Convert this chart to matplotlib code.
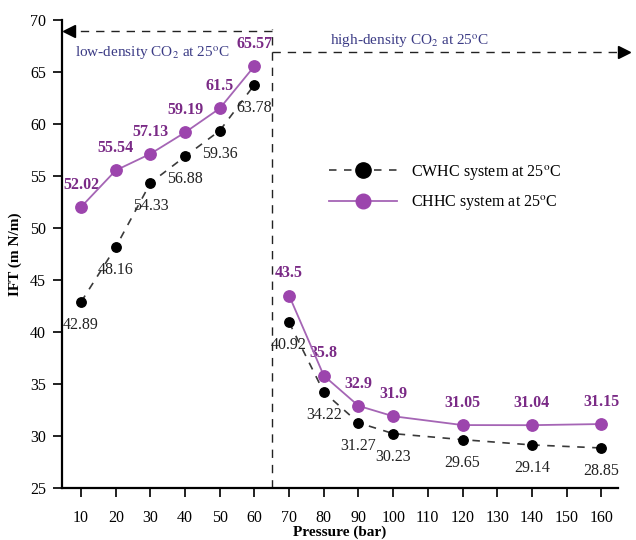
import matplotlib
matplotlib.use("Agg")
import matplotlib.pyplot as plt
from matplotlib.lines import Line2D

plt.rcParams['font.family'] = ['Liberation Serif', 'DejaVu Serif']
plt.rcParams['mathtext.fontset'] = 'stix'

# data
pressure_low = [10, 20, 30, 40, 50, 60]
pressure_high = [70, 80, 90, 100, 120, 140, 160]
cwhc_low = [42.89, 48.16, 54.33, 56.88, 59.36, 63.78]
cwhc_high = [40.92, 34.22, 31.27, 30.23, 29.65, 29.14, 28.85]
chhc_low = [52.02, 55.54, 57.13, 59.19, 61.5, 65.57]
chhc_high = [43.5, 35.8, 32.9, 31.9, 31.05, 31.04, 31.15]
x_ticks = list(range(10, 170, 10))
y_ticks = list(range(25, 75, 5))

black_line = '#3a3a3a'
purple_line = '#a565b5'
purple_mark = '#9c45ad'
purple_text = '#7a2a86'
region_text = '#3b3b85'

fig = plt.figure(figsize=(6.36, 5.40), dpi=100)
ax = fig.add_axes([0.0975, 0.0963, 0.8745, 0.8667])

dash = (0, (4.5, 4.5))
for xs, ys in [(pressure_low, cwhc_low), (pressure_high, cwhc_high)]:
    ax.plot(xs, ys, color=black_line, lw=1.2, ls=dash, marker='o',
            ms=6.8, mfc='black', mec='black', zorder=3)
    for x, y in zip(xs, ys):
        ax.annotate(f"{y:g}", (x, y), xytext=(0, -16.5), textcoords='offset points',
                    ha='center', va='center', fontsize=11.5, color='#222222')

for xs, ys in [(pressure_low, chhc_low), (pressure_high, chhc_high)]:
    ax.plot(xs, ys, color=purple_line, lw=1.3, marker='o', ms=8.2,
            mfc=purple_mark, mec=purple_mark, zorder=4)
    for x, y in zip(xs, ys):
        ax.annotate(f"{y:g}", (x, y), xytext=(0, 16), textcoords='offset points',
                    ha='center', va='center', fontsize=11.5, color=purple_text,
                    fontweight='bold')

# region divider and arrows
ax.plot([65, 65], [25, 69.1], color='#222222', lw=1.0, ls=(0, (6, 5)), clip_on=False)
ax.plot([65, 7.5], [68.9, 68.9], color='#222222', lw=1.0, ls=(0, (6, 5)), clip_on=False)
ax.plot([6.6], [68.9], marker='<', ms=8, color='black', clip_on=False)
ax.plot([65, 165.5], [66.9, 66.9], color='#222222', lw=1.0, ls=(0, (6, 5)), clip_on=False)
ax.plot([166.6], [66.9], marker='>', ms=8, color='black', clip_on=False)

ax.text(8.3, 66.8, r"low-density CO$_2$ at 25$^\mathrm{o}$C", color=region_text,
        fontsize=11, ha='left', va='center')
ax.text(104.6, 68.0, r"high-density CO$_2$ at 25$^\mathrm{o}$C", color=region_text,
        fontsize=11, ha='center', va='center')

handles = [
    Line2D([], [], color=black_line, lw=1.2, ls=dash, marker='o', ms=11,
           mfc='black', mec='black'),
    Line2D([], [], color=purple_line, lw=1.3, marker='o', ms=10.5,
           mfc=purple_mark, mec=purple_mark),
]
ax.legend(handles, [r"CWHC system at 25$^\mathrm{o}$C", r"CHHC system at 25$^\mathrm{o}$C"],
          loc='center left', bbox_to_anchor=(0.455, 0.642), frameon=False,
          fontsize=11.5, handlelength=4.2, handletextpad=0.9, labelspacing=0.7)

ax.set_xlim(4.5, 164.9)
ax.set_ylim(25, 70)
ax.set_xticks(x_ticks)
ax.set_yticks(y_ticks)
ax.tick_params(axis='both', direction='out', length=6.5, width=1.3,
               labelsize=11.5, color='#111111')
ax.tick_params(axis='x', pad=9)
ax.tick_params(axis='y', pad=5)
for side in ['top', 'right']:
    ax.spines[side].set_visible(False)
for side in ['left', 'bottom']:
    ax.spines[side].set_linewidth(1.6)

ax.set_xlabel("Pressure (bar)", fontweight='bold', fontsize=11, labelpad=0)
ax.set_ylabel("IFT (m N/m)", fontweight='bold', fontsize=11, labelpad=6)

fig.savefig("out.png", dpi=100)
